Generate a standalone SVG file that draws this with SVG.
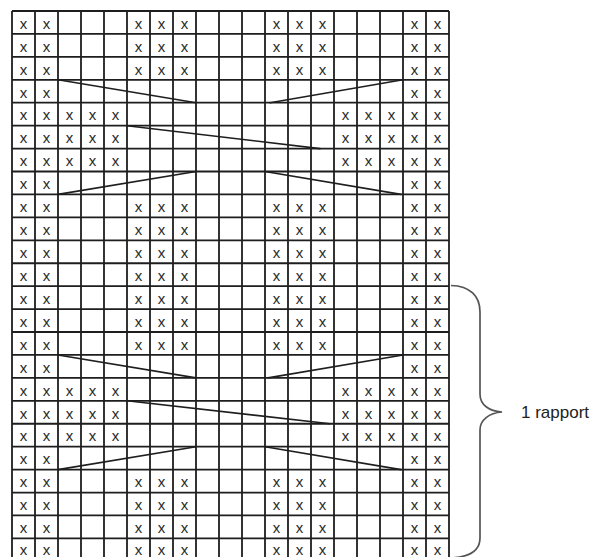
<svg xmlns="http://www.w3.org/2000/svg" width="597" height="557" viewBox="0 0 597 557">
<style>
.grid{fill:none;stroke:#1e1e1e;stroke-width:1.8}
.cable{fill:none;stroke:#1e1e1e;stroke-width:1.6;stroke-linecap:round}
.st{font-family:"Liberation Sans",Arial,sans-serif;font-size:15px;fill:#2a2a2a;text-anchor:middle}
.brace{fill:none;stroke:#555;stroke-width:1.7}
.label{font-family:"Liberation Sans",Arial,sans-serif;font-size:17px;fill:#222}
</style>
<rect width="597" height="557" fill="#fff"/>
<g id="grid">
<path class="grid" d="M12,11V562M35,11V562M58,11V562M81,11V562M104,11V562M127,11V562M150,11V562M173,11V562M196,11V562M219,11V562M242,11V562M265,11V562M288,11V562M311,11V562M334,11V562M357,11V562M380,11V562M403,11V562M426,11V562M449,11V562"/>
<path class="grid" d="M12,11H449M12,33.93H449M12,56.86H449M12,79.79H449M12,102.72H449M12,125.65H449M12,148.58H449M12,171.51H449M12,194.44H449M12,217.37H449M12,240.3H449M12,263.23H449M12,286.16H449M12,309.09H449M12,332.02H449M12,354.95H449M12,377.88H449M12,400.81H449M12,423.74H449M12,446.67H449M12,469.6H449M12,492.53H449M12,515.46H449M12,538.39H449M12,561.32H449"/>
</g>
<g id="stitches" class="st">
<text x="23.5 46.5 138.5 161.5 184.5 276.5 299.5 322.5 414.5 437.5" y="28.7">xxxxxxxxxx</text>
<text x="23.5 46.5 138.5 161.5 184.5 276.5 299.5 322.5 414.5 437.5" y="51.6">xxxxxxxxxx</text>
<text x="23.5 46.5 138.5 161.5 184.5 276.5 299.5 322.5 414.5 437.5" y="74.6">xxxxxxxxxx</text>
<text x="23.5 46.5 414.5 437.5" y="97.5">xxxx</text>
<text x="23.5 46.5 69.5 92.5 115.5 345.5 368.5 391.5 414.5 437.5" y="120.4">xxxxxxxxxx</text>
<text x="23.5 46.5 69.5 92.5 115.5 345.5 368.5 391.5 414.5 437.5" y="143.4">xxxxxxxxxx</text>
<text x="23.5 46.5 69.5 92.5 115.5 345.5 368.5 391.5 414.5 437.5" y="166.3">xxxxxxxxxx</text>
<text x="23.5 46.5 414.5 437.5" y="189.2">xxxx</text>
<text x="23.5 46.5 138.5 161.5 184.5 276.5 299.5 322.5 414.5 437.5" y="212.1">xxxxxxxxxx</text>
<text x="23.5 46.5 138.5 161.5 184.5 276.5 299.5 322.5 414.5 437.5" y="235.1">xxxxxxxxxx</text>
<text x="23.5 46.5 138.5 161.5 184.5 276.5 299.5 322.5 414.5 437.5" y="258">xxxxxxxxxx</text>
<text x="23.5 46.5 138.5 161.5 184.5 276.5 299.5 322.5 414.5 437.5" y="280.9">xxxxxxxxxx</text>
<text x="23.5 46.5 138.5 161.5 184.5 276.5 299.5 322.5 414.5 437.5" y="303.9">xxxxxxxxxx</text>
<text x="23.5 46.5 138.5 161.5 184.5 276.5 299.5 322.5 414.5 437.5" y="326.8">xxxxxxxxxx</text>
<text x="23.5 46.5 138.5 161.5 184.5 276.5 299.5 322.5 414.5 437.5" y="349.7">xxxxxxxxxx</text>
<text x="23.5 46.5 414.5 437.5" y="372.7">xxxx</text>
<text x="23.5 46.5 69.5 92.5 115.5 345.5 368.5 391.5 414.5 437.5" y="395.6">xxxxxxxxxx</text>
<text x="23.5 46.5 69.5 92.5 115.5 345.5 368.5 391.5 414.5 437.5" y="418.5">xxxxxxxxxx</text>
<text x="23.5 46.5 69.5 92.5 115.5 345.5 368.5 391.5 414.5 437.5" y="441.4">xxxxxxxxxx</text>
<text x="23.5 46.5 414.5 437.5" y="464.4">xxxx</text>
<text x="23.5 46.5 138.5 161.5 184.5 276.5 299.5 322.5 414.5 437.5" y="487.3">xxxxxxxxxx</text>
<text x="23.5 46.5 138.5 161.5 184.5 276.5 299.5 322.5 414.5 437.5" y="510.2">xxxxxxxxxx</text>
<text x="23.5 46.5 138.5 161.5 184.5 276.5 299.5 322.5 414.5 437.5" y="533.2">xxxxxxxxxx</text>
<text x="23.5 46.5 138.5 161.5 184.5 276.5 299.5 322.5 414.5 437.5" y="555.2">xxxxxxxxxx</text>
</g>
<g id="cables" class="cable">
<path d="M58,79.8L196,102.7M403,79.8L270,102.7"/>
<path d="M127,125.7L320,148.6"/>
<path d="M58,194.4L196,171.5M265,171.5L401,194.4"/>
<path d="M58,355L196,377.9M403,355L268,377.9"/>
<path d="M127,400.8L330,423.7"/>
<path d="M58,469.6L196,446.7M265,446.7L401,469.6"/>
</g>
<g id="rapport">
<path class="brace" d="M451,285.5C470,286 480,296 480,312L480,394C480,405 489,411 502,412C489,413 480,420 480,430L480,538C480,551 470,557 451,558"/>
<text class="label" x="521" y="418">1 rapport</text>
</g>
</svg>
